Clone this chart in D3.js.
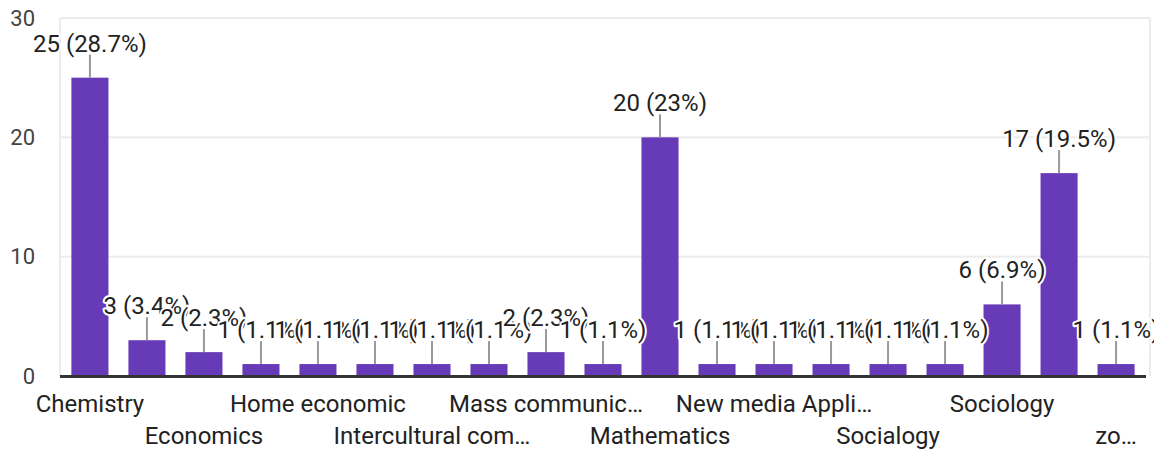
<!DOCTYPE html>
<html>
<head>
<meta charset="utf-8">
<script src="https://cdn.jsdelivr.net/npm/d3@7"></script>
<style>
  html, body { margin: 0; padding: 0; background: #fff; }
  svg { display: block; }
</style>
</head>
<body>
<svg id="chart" width="1154" height="455"></svg>
<script>
// Google-Forms style response bar chart

const categories = [
  "Chemistry", "Computer science", "Economics", "English", "Home economic",
  "Information technology", "Intercultural communication", "Linguistics",
  "Mass communication", "Mass media", "Mathematics", "Microbiology",
  "New media Applications", "Physics", "Socialogy", "Socio-economics",
  "Sociology", "Statistics", "zoology",
];
const counts = [25, 3, 2, 1, 1, 1, 1, 1, 2, 1, 20, 1, 1, 1, 1, 1, 6, 17, 1];
// labels as the chart shows them (every second one, truncated)
const tickLabels = [
  "Chemistry", "", "Economics", "", "Home economic", "", "Intercultural com…", "",
  "Mass communic…", "", "Mathematics", "", "New media Appli…", "", "Socialogy", "",
  "Sociology", "", "zo…",
];
const yTicks = [0, 10, 20, 30];

const W = 1154, H = 455;
const LEFT = 60, RIGHT = 1146, TOP = 18, BASE = 376;
const FONT = "Roboto, 'Open Sans', Arial, sans-serif";

const svg = d3.select("#chart");
const total = d3.sum(counts);
const data = categories.map((name, i) => ({ name, i, v: counts[i], tick: tickLabels[i] }));

const x = d3.scaleBand().domain(data.map((d) => d.i)).range([LEFT, RIGHT])
  .paddingInner(0.35).paddingOuter(0.2);
const y = d3.scaleLinear().domain([0, 30]).range([BASE, TOP]);

// grid
svg.append("g").selectAll("line").data(yTicks.filter((t) => t > 0)).enter().append("line")
  .attr("x1", LEFT).attr("x2", 1150)
  .attr("y1", (t) => y(t)).attr("y2", (t) => y(t))
  .attr("stroke", "#ececec").attr("stroke-width", 2);
svg.append("line").attr("x1", LEFT).attr("x2", LEFT).attr("y1", TOP).attr("y2", BASE)
  .attr("stroke", "#ececec").attr("stroke-width", 2);
svg.append("line").attr("x1", 1150).attr("x2", 1150).attr("y1", TOP).attr("y2", BASE)
  .attr("stroke", "#ececec").attr("stroke-width", 2);

// y tick labels
svg.append("g").selectAll("text").data(yTicks).enter().append("text")
  .attr("x", 35).attr("y", (t) => y(t)).attr("dy", "0.35em")
  .attr("text-anchor", "end")
  .style("font", `22px ${FONT}`).style("fill", "#444")
  .text((t) => t);

// bars
svg.append("g").selectAll("rect").data(data).enter().append("rect")
  .attr("x", (d) => x(d.i)).attr("width", x.bandwidth())
  .attr("y", (d) => y(d.v)).attr("height", (d) => BASE - y(d.v))
  .attr("fill", "#673ab7");

// baseline
svg.append("line").attr("x1", LEFT).attr("x2", RIGHT).attr("y1", BASE + 0.5).attr("y2", BASE + 0.5)
  .attr("stroke", "#333").attr("stroke-width", 3);

// leader lines
const cx = (d) => x(d.i) + x.bandwidth() / 2;
svg.append("g").selectAll("line").data(data).enter().append("line")
  .attr("x1", cx).attr("x2", cx)
  .attr("y1", (d) => y(d.v)).attr("y2", (d) => y(d.v) - 23)
  .attr("stroke", "#999").attr("stroke-width", 2);

// value labels with white halo, later ones on top
const pct = (v) => Math.round(v / total * 1000) / 10;
svg.append("g").selectAll("text").data(data).enter().append("text")
  .attr("x", cx).attr("y", (d) => y(d.v) - 26)
  .attr("text-anchor", "middle")
  .style("font", `24px ${FONT}`).style("fill", "#222")
  .attr("stroke", "#fff").attr("stroke-width", 4).attr("stroke-linejoin", "round")
  .style("paint-order", "stroke")
  .text((d) => `${d.v} (${pct(d.v)}%)`);

// category labels, two staggered rows
svg.append("g").selectAll("text").data(data.filter((d) => d.tick)).enter().append("text")
  .attr("x", cx).attr("y", (d) => ((d.i / 2) % 2 ? 444 : 412))
  .attr("text-anchor", "middle")
  .style("font", `24px ${FONT}`).style("fill", "#222")
  .text((d) => d.tick);
</script>
</body>
</html>
